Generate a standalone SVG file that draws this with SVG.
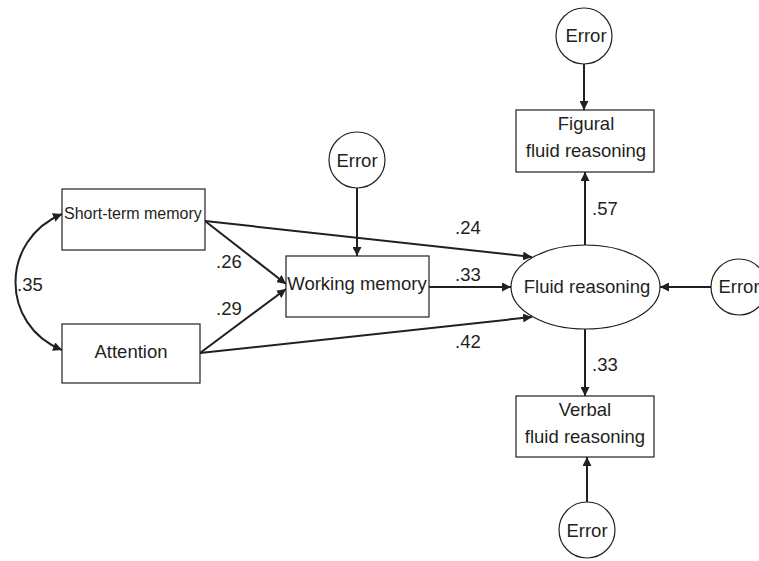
<svg xmlns="http://www.w3.org/2000/svg" width="759" height="561" viewBox="0 0 759 561">
  <style>
    .box { fill: #fff; stroke: #231f20; stroke-width: 1.2; }
    .edge { fill: none; stroke: #231f20; stroke-width: 2; }
    text { font-family: "Liberation Sans", Arial, sans-serif; font-size: 18.5px; fill: #231f20; }
    .mid { text-anchor: middle; }
  </style>
  <defs>
    <marker id="arrow" viewBox="0 0 10 10" refX="10" refY="5" markerWidth="4.5" markerHeight="4.5" orient="auto-start-reverse" markerUnits="strokeWidth">
      <path d="M0,0 L10,5 L0,10 z" fill="#231f20"/>
    </marker>
  </defs>

  <rect width="759" height="561" fill="#fff"/>

  <!-- connectors -->
  <g id="connectors">
    <path class="edge" d="M62,214 C0,240 0,325 62,350" marker-start="url(#arrow)" marker-end="url(#arrow)"/>
    <line class="edge" x1="205" y1="221" x2="286" y2="284" marker-end="url(#arrow)"/>
    <line class="edge" x1="200" y1="353" x2="286" y2="289" marker-end="url(#arrow)"/>
    <line class="edge" x1="205" y1="221" x2="532" y2="257" marker-end="url(#arrow)"/>
    <line class="edge" x1="200" y1="353" x2="532" y2="317" marker-end="url(#arrow)"/>
    <line class="edge" x1="429" y1="287" x2="511" y2="287" marker-end="url(#arrow)"/>
    <line class="edge" x1="357" y1="188" x2="357" y2="256" marker-end="url(#arrow)"/>
    <line class="edge" x1="711" y1="287" x2="660" y2="287" marker-end="url(#arrow)"/>
    <line class="edge" x1="585" y1="245" x2="585" y2="172" marker-end="url(#arrow)"/>
    <line class="edge" x1="585" y1="329" x2="585" y2="396" marker-end="url(#arrow)"/>
    <line class="edge" x1="584" y1="64" x2="584" y2="110" marker-end="url(#arrow)"/>
    <line class="edge" x1="587" y1="502" x2="587" y2="457" marker-end="url(#arrow)"/>
    <text x="17" y="291">.35</text>
    <text x="216" y="268">.26</text>
    <text x="216" y="315">.29</text>
    <text x="455" y="234">.24</text>
    <text x="455" y="281">.33</text>
    <text x="455" y="348">.42</text>
    <text x="592" y="215">.57</text>
    <text x="592" y="371">.33</text>
  </g>

  <g id="short-term-memory">
    <rect class="box" x="62" y="189" width="143" height="61"/>
    <text x="64" y="219" style="font-size:16px">Short-term memory</text>
  </g>

  <g id="attention">
    <rect class="box" x="62" y="324" width="138" height="59"/>
    <text class="mid" x="131" y="358">Attention</text>
  </g>

  <g id="working-memory">
    <rect class="box" x="286" y="256" width="143" height="61"/>
    <text class="mid" x="357" y="290">Working memory</text>
  </g>

  <g id="error-working-memory">
    <circle class="box" cx="357" cy="160" r="28"/>
    <text class="mid" x="357" y="167">Error</text>
  </g>

  <g id="fluid-reasoning">
    <ellipse class="box" cx="585.5" cy="287" rx="74.5" ry="42"/>
    <text class="mid" x="587" y="293">Fluid reasoning</text>
  </g>

  <g id="error-fluid-reasoning">
    <circle class="box" cx="739" cy="287" r="28"/>
    <text class="mid" x="739" y="293">Error</text>
  </g>

  <g id="figural">
    <rect class="box" x="516" y="110" width="138" height="62"/>
    <text class="mid" x="586" y="130">Figural</text>
    <text class="mid" x="586" y="157">fluid reasoning</text>
  </g>

  <g id="error-figural">
    <circle class="box" cx="584" cy="36" r="28"/>
    <text class="mid" x="586" y="42">Error</text>
  </g>

  <g id="verbal">
    <rect class="box" x="516" y="396" width="138" height="61"/>
    <text class="mid" x="585" y="416">Verbal</text>
    <text class="mid" x="585" y="443">fluid reasoning</text>
  </g>

  <g id="error-verbal">
    <circle class="box" cx="587" cy="530" r="28"/>
    <text class="mid" x="587" y="537">Error</text>
  </g>
</svg>
